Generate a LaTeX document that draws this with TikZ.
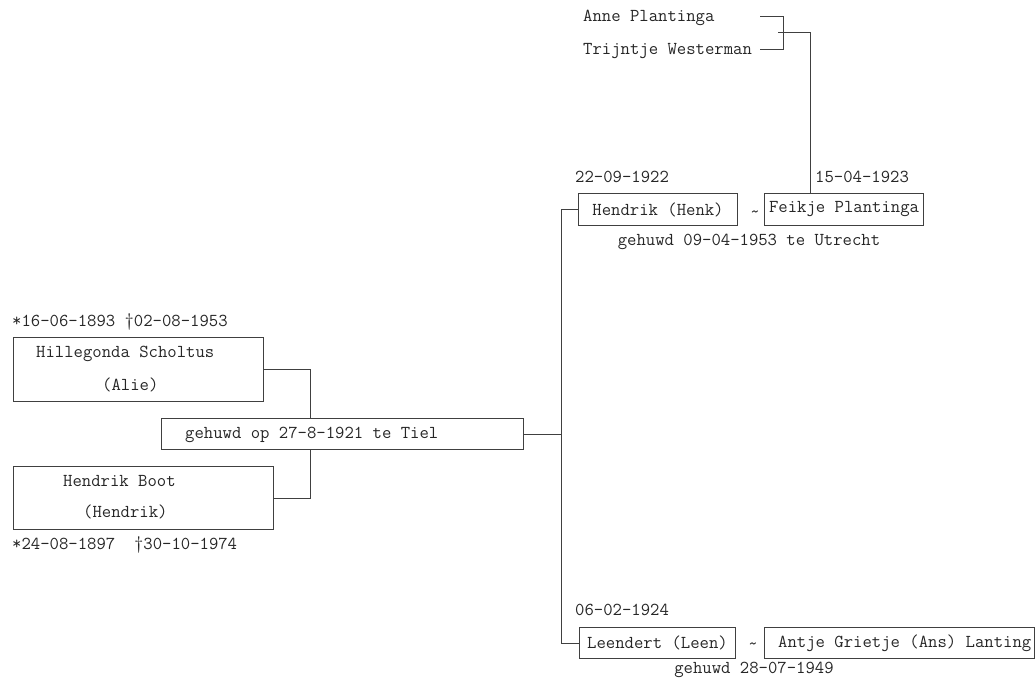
\documentclass[tikz,border=0pt]{standalone}
\usepackage{fontspec}
\setmonofont{Latin Modern Mono}[WordSpace={1,0,0}]
\usepackage{xcolor}
\usepackage{tikz}

\definecolor{lijnkleur}{HTML}{404040}
\tikzset{
  kader/.style={draw=lijnkleur, line width=1pt, inner sep=0pt, anchor=north west},
  tekst/.style={inner sep=0pt, anchor=base west},
  lijn/.style={draw=lijnkleur, line width=1pt}
}

\begin{document}
\begin{tikzpicture}[x=1pt,y=-1pt,
  every node/.style={font=\ttfamily\fontsize{18.2}{20}\selectfont, text=black!85}]
\useasboundingbox (0,0) rectangle (1035,685);

% grootouders
\node (anne) at (583,22)[tekst]{Anne Plantinga};
\node (trijntje) at (583,55)[tekst]{Trijntje Westerman};
\coordinate (anne-eind) at (760,17);
\coordinate (trijntje-eind) at (760,50);
\coordinate (vork) at (783,33);

% ouders
\node (hillegonda) at (13,337)[kader, minimum width=250pt, minimum height=64pt]{};
\node (hillegonda-naam) at (36,357)[tekst]{Hillegonda Scholtus};
\node (hillegonda-roep) at (102,390)[tekst]{(Alie)};
\node (hillegonda-data) at (12,326)[tekst]{*16-06-1893 †02-08-1953};

\node (boot) at (13,466)[kader, minimum width=260pt, minimum height=63pt]{};
\node (boot-naam) at (63,486)[tekst]{Hendrik Boot};
\node (boot-roep) at (83,517)[tekst]{(Hendrik)};
\node (boot-data) at (12,549)[tekst]{*24-08-1897\ \ †30-10-1974};

\node (huwelijk) at (161,418)[kader, minimum width=362pt, minimum height=31pt]{};
\node (huwelijk-tekst) at (185,438)[tekst]{gehuwd op 27-8-1921 te Tiel};
\coordinate (stam) at ([xshift=37.5pt]huwelijk.east);

% kinderen
\node (henk) at (578,193)[kader, minimum width=159pt, minimum height=32pt]{Hendrik (Henk)};
\node (henk-data) at (575,182)[tekst]{22-09-1922};
\node (tilde1) at (755,214){\textasciitilde};
\node (feikje) at (764,193)[kader, minimum width=159pt, minimum height=32pt]{Feikje Plantinga};
\node (feikje-data) at (815,182)[tekst]{15-04-1923};
\node (henk-huw) at (749,242){gehuwd 09-04-1953 te Utrecht};

\node (leen) at (579,627)[kader, minimum width=156pt, minimum height=31pt]{Leendert (Leen)};
\node (leen-data) at (575,615)[tekst]{06-02-1924};
\node (tilde2) at (753,646){\textasciitilde};
\node (antje) at (764,627)[kader, minimum width=270pt, minimum height=31pt]{};
\node (antje-naam) at (778,647)[tekst]{Antje Grietje (Ans) Lanting};
\node (leen-huw) at (754,670){gehuwd 28-07-1949};

% lijnen
\draw[lijn] (anne-eind) -| (vork) |- (trijntje-eind);
\draw[lijn] ([xshift=-5pt]vork) -| ([xshift=-33.5pt]feikje.north);
\draw[lijn] (hillegonda.east) -| ([xshift=-32pt]huwelijk.north);
\draw[lijn] (boot.east) -| ([xshift=-32pt]huwelijk.south);
\draw[lijn] (huwelijk.east) -- (stam);
\draw[lijn] (henk.west) -| (stam) |- (leen.west);

\end{tikzpicture}
\end{document}
